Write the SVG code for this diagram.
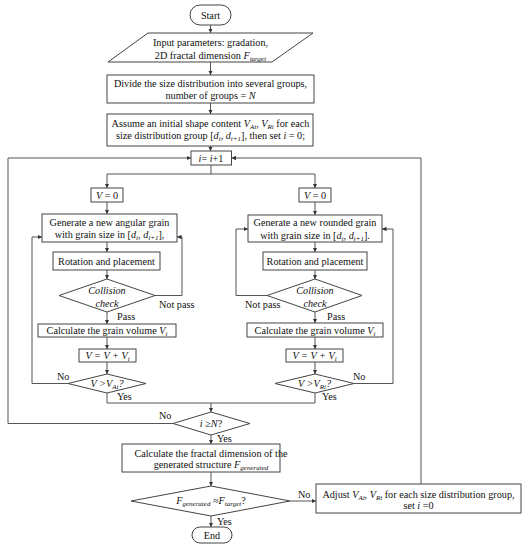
<svg xmlns="http://www.w3.org/2000/svg" width="531" height="550" viewBox="0 0 531 550">
<defs>
<marker id="ah" viewBox="0 0 8 8" refX="8" refY="4" markerWidth="4.5" markerHeight="4.5" orient="auto" markerUnits="userSpaceOnUse">
<path d="M0,0 L8,4 L0,8 z" fill="#333"/>
</marker>
<style>
.s{fill:#fff;stroke:#444;stroke-width:1}
.c{fill:none;stroke:#555;stroke-width:1}
.a{marker-end:url(#ah)}
text{font-family:"Liberation Serif","Times New Roman",serif;font-size:10.2px;fill:#111}
.m{text-anchor:middle}
.i{font-style:italic}
.sub{font-size:7px}
</style>
</defs>
<rect width="531" height="550" fill="#fff"/>
<g id="connectors">
<path class="c a" d="M210.5,25 V33"/>
<path class="c a" d="M210.5,62 V75"/>
<path class="c a" d="M210.5,103 V114"/>
<path class="c a" d="M210.5,146 V151"/>
<path class="c" d="M211,165 V174 M107,174 H315"/>
<path class="c a" d="M107,174 V188"/>
<path class="c a" d="M315,174 V188"/>
<path class="c a" d="M107,202 V214"/>
<path class="c a" d="M315,202 V215"/>
<path class="c a" d="M107,242 V252"/>
<path class="c a" d="M315,242 V252"/>
<path class="c a" d="M107,270 V279"/>
<path class="c a" d="M315,270 V279"/>
<path class="c a" d="M155,295.5 H182 V237 H177"/>
<path class="c a" d="M267,295.5 H236 V229 H248"/>
<path class="c a" d="M107,312 V324"/>
<path class="c a" d="M315,312 V323"/>
<path class="c a" d="M107,337 V349"/>
<path class="c a" d="M315,337 V349"/>
<path class="c a" d="M107,362 V374"/>
<path class="c a" d="M315,362 V374"/>
<path class="c a" d="M68,383.5 H32 V237 H42"/>
<path class="c a" d="M354,383.5 H393 V229 H382"/>
<path class="c" d="M107,393 V403 H315 V393"/>
<path class="c a" d="M211,403 V412"/>
<path class="c a" d="M173,423.5 H8 V158 H191"/>
<path class="c a" d="M211,435 V444"/>
<path class="c a" d="M211,472 V486"/>
<path class="c a" d="M290,501 H316"/>
<path class="c a" d="M211,516 V527"/>
<path class="c a" d="M421,484 V158 H231.5"/>
<text x="159" y="308">Not pass</text>
<text x="245" y="308">Not pass</text>
<text x="117" y="320">Pass</text>
<text x="327" y="320">Pass</text>
<text x="57" y="380">No</text>
<text x="353" y="380">No</text>
<text x="117" y="400">Yes</text>
<text x="322" y="400">Yes</text>
<text x="159" y="419">No</text>
<text x="217" y="442">Yes</text>
<text x="298" y="498">No</text>
<text x="217" y="525">Yes</text>
</g>
<g id="start"><rect class="s" x="190" y="5" width="41" height="20" rx="10"/><text class="m" x="210.5" y="19">Start</text></g>
<g id="input"><polygon class="s" points="148,33 313,33 272,62 108,62"/>
<text class="m" x="210.5" y="46">Input parameters: gradation,</text>
<text class="m" x="210.5" y="58.5">2D fractal dimension <tspan class="i">F</tspan><tspan class="i sub" dy="2">target</tspan></text></g>
<g id="divide"><rect class="s" x="107" y="75" width="207" height="28"/>
<text class="m" x="210.5" y="86.5">Divide the size distribution into several groups,</text>
<text class="m" x="210.5" y="98.5">number of groups = <tspan class="i">N</tspan></text></g>
<g id="assume"><rect class="s" x="107" y="114" width="206" height="32"/>
<text class="m" x="210.5" y="126.5">Assume an initial shape content <tspan class="i">V</tspan><tspan class="i sub" dy="2">Ai</tspan><tspan dy="-2">, </tspan><tspan class="i">V</tspan><tspan class="i sub" dy="2">Ri</tspan><tspan dy="-2"> for each</tspan></text>
<text class="m" x="210.5" y="139">size distribution group [<tspan class="i">d</tspan><tspan class="i sub" dy="2">i</tspan><tspan dy="-2">, </tspan><tspan class="i">d</tspan><tspan class="i sub" dy="2">i+1</tspan><tspan dy="-2">], then set </tspan><tspan class="i">i</tspan> = 0;</text></g>
<g id="incr"><rect class="s" x="191" y="151" width="40.5" height="14"/><text class="m" x="211" y="161.5"><tspan class="i">i</tspan>= <tspan class="i">i</tspan>+1</text></g>
<g id="v0a"><rect class="s" x="91" y="188" width="32" height="14"/><text class="m" x="107" y="198.5"><tspan class="i">V</tspan> = 0</text></g>
<g id="v0r"><rect class="s" x="299" y="188" width="32" height="14"/><text class="m" x="315" y="198.5"><tspan class="i">V</tspan> = 0</text></g>
<g id="gena"><rect class="s" x="42" y="214" width="135" height="28"/>
<text class="m" x="109.5" y="225.5">Generate a new angular grain</text>
<text class="m" x="109.5" y="238">with grain size in [<tspan class="i">d</tspan><tspan class="i sub" dy="2">i</tspan><tspan dy="-2">, </tspan><tspan class="i">d</tspan><tspan class="i sub" dy="2">i+1</tspan><tspan dy="-2">],</tspan></text></g>
<g id="genr"><rect class="s" x="248" y="215" width="134" height="27"/>
<text class="m" x="315" y="226">Generate a new rounded grain</text>
<text class="m" x="315" y="238.5">with grain size in [<tspan class="i">d</tspan><tspan class="i sub" dy="2">i</tspan><tspan dy="-2">, </tspan><tspan class="i">d</tspan><tspan class="i sub" dy="2">i+1</tspan><tspan dy="-2">].</tspan></text></g>
<g id="rota"><rect class="s" x="53" y="252" width="107" height="18"/><text class="m" x="106.5" y="265">Rotation and placement</text></g>
<g id="rotr"><rect class="s" x="263" y="252" width="104" height="18"/><text class="m" x="315" y="265">Rotation and placement</text></g>
<g id="cola"><polygon class="s" points="107,279 155,295.5 107,312 59,295.5"/>
<text class="m i" x="107" y="293.5">Collision</text><text class="m i" x="107" y="306.5">check</text></g>
<g id="colr"><polygon class="s" points="315,279 362,295.5 315,312 267,295.5"/>
<text class="m i" x="315" y="293.5">Collision</text><text class="m i" x="315" y="306.5">check</text></g>
<g id="cala"><rect class="s" x="38" y="324" width="138" height="13"/><text class="m" x="107" y="334">Calculate the grain volume <tspan class="i">V</tspan><tspan class="i sub" dy="2">i</tspan></text></g>
<g id="calr"><rect class="s" x="247" y="323" width="136" height="14"/><text class="m" x="315" y="334">Calculate the grain volume <tspan class="i">V</tspan><tspan class="i sub" dy="2">i</tspan></text></g>
<g id="suma"><rect class="s" x="79" y="349" width="57" height="13"/><text class="m i" x="107.5" y="359">V = V + V<tspan class="sub" dy="2">i</tspan></text></g>
<g id="sumr"><rect class="s" x="286" y="349" width="57" height="13"/><text class="m i" x="314.5" y="359">V = V + V<tspan class="sub" dy="2">i</tspan></text></g>
<g id="cmpa"><polygon class="s" points="107,374 146,383.5 107,393 68,383.5"/><text class="m i" x="107" y="387">V &gt;V<tspan class="sub" dy="2">Ai</tspan><tspan dy="-2">?</tspan></text></g>
<g id="cmpr"><polygon class="s" points="315,374 354,383.5 315,393 275,383.5"/><text class="m i" x="314.5" y="387">V &gt;V<tspan class="sub" dy="2">Ri</tspan><tspan dy="-2">?</tspan></text></g>
<g id="ign"><polygon class="s" points="211,412 250,423.5 211,435 173,423.5"/><text class="m" x="211" y="427"><tspan class="i">i</tspan> ≥<tspan class="i">N</tspan>?</text></g>
<g id="fractal"><rect class="s" x="122" y="444" width="158" height="28"/>
<text class="m" x="211" y="456.5">Calculate the fractal dimension of the</text>
<text class="m" x="211" y="468">generated structure <tspan class="i">F</tspan><tspan class="i sub" dy="2">generated</tspan></text></g>
<g id="fcmp"><polygon class="s" points="211,486 290,501 211,516 131,501"/>
<text class="m" x="211" y="504"><tspan class="i">F</tspan><tspan class="i sub" dy="2">generated</tspan><tspan dy="-2"> ≈</tspan><tspan class="i">F</tspan><tspan class="i sub" dy="2">target</tspan><tspan dy="-2">?</tspan></text></g>
<g id="adjust"><rect class="s" x="316" y="484" width="205" height="29"/>
<text class="m" x="418.5" y="497.5">Adjust <tspan class="i">V</tspan><tspan class="i sub" dy="2">Ai</tspan><tspan dy="-2">, </tspan><tspan class="i">V</tspan><tspan class="i sub" dy="2">Ri</tspan><tspan dy="-2">  for each size distribution group,</tspan></text>
<text class="m" x="418.5" y="509">set <tspan class="i">i</tspan> =0</text></g>
<g id="end"><rect class="s" x="192" y="527" width="40" height="16" rx="8"/><text class="m" x="212" y="539">End</text></g>
</svg>
